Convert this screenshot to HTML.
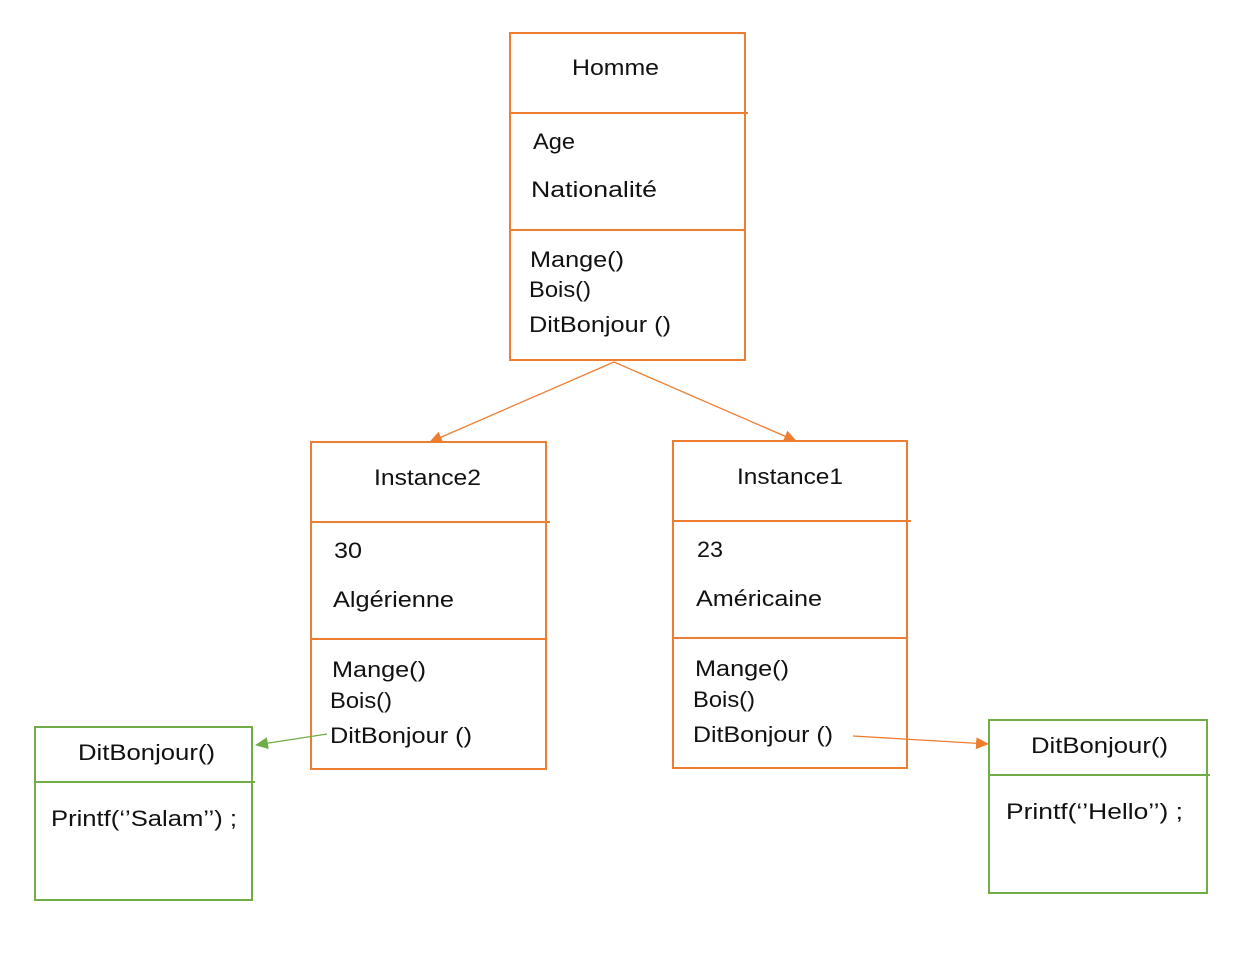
<!DOCTYPE html>
<html><head><meta charset="utf-8"><style>
body{margin:0;background:#fff;}
svg text{font-family:"Liberation Sans",sans-serif;font-size:22px;fill:#111;}
</style></head><body>
<svg width="1237" height="959" viewBox="0 0 1237 959" xmlns="http://www.w3.org/2000/svg">
<defs>
<marker id="ao" markerWidth="14" markerHeight="14" refX="12" refY="6" orient="auto" markerUnits="userSpaceOnUse"><path d="M0,0 L13,6 L0,12 z" fill="#ED7D31"/></marker>
<marker id="ag" markerWidth="14" markerHeight="14" refX="12" refY="6" orient="auto" markerUnits="userSpaceOnUse"><path d="M0,0 L13,6 L0,12 z" fill="#70AD47"/></marker>
</defs>
<g fill="none" stroke="#ED7D31" stroke-width="2">
<rect x="510" y="33" width="235" height="327"/>
<line x1="510" y1="113" x2="748" y2="113"/>
<line x1="510" y1="230" x2="745" y2="230"/>
<rect x="311" y="442" width="235" height="327"/>
<line x1="311" y1="522" x2="550" y2="522"/>
<line x1="311" y1="639" x2="546" y2="639"/>
<rect x="673" y="441" width="234" height="327"/>
<line x1="673" y1="521" x2="911" y2="521"/>
<line x1="673" y1="638" x2="907" y2="638"/>
</g>
<g stroke="#ED7D31" stroke-width="1.3">
<line x1="614" y1="362" x2="430" y2="442" marker-end="url(#ao)"/>
<line x1="614" y1="362" x2="796" y2="441" marker-end="url(#ao)"/>
<line x1="853" y1="736" x2="988" y2="744" marker-end="url(#ao)"/>
</g>
<line x1="327" y1="734" x2="256" y2="745" stroke="#70AD47" stroke-width="1.3" marker-end="url(#ag)"/>
<g fill="none" stroke="#70AD47" stroke-width="2">
<rect x="35" y="727" width="217" height="173"/>
<line x1="35" y1="782" x2="255" y2="782"/>
<rect x="989" y="720" width="218" height="173"/>
<line x1="989" y1="775" x2="1210" y2="775"/>
</g>
<g lengthAdjust="spacingAndGlyphs">
<text x="572" y="75" textLength="87" lengthAdjust="spacingAndGlyphs">Homme</text>
<text x="533" y="149" textLength="42" lengthAdjust="spacingAndGlyphs">Age</text>
<text x="531" y="197" textLength="126" lengthAdjust="spacingAndGlyphs">Nationalité</text>
<text x="530" y="267" textLength="94" lengthAdjust="spacingAndGlyphs">Mange()</text>
<text x="529" y="297" textLength="62" lengthAdjust="spacingAndGlyphs">Bois()</text>
<text x="529" y="332" textLength="142" lengthAdjust="spacingAndGlyphs">DitBonjour ()</text>
<text x="374" y="485" textLength="107" lengthAdjust="spacingAndGlyphs">Instance2</text>
<text x="334" y="558" textLength="28" lengthAdjust="spacingAndGlyphs">30</text>
<text x="333" y="607" textLength="121" lengthAdjust="spacingAndGlyphs">Algérienne</text>
<text x="332" y="677" textLength="94" lengthAdjust="spacingAndGlyphs">Mange()</text>
<text x="330" y="708" textLength="62" lengthAdjust="spacingAndGlyphs">Bois()</text>
<text x="330" y="743" textLength="142" lengthAdjust="spacingAndGlyphs">DitBonjour ()</text>
<text x="737" y="484" textLength="106" lengthAdjust="spacingAndGlyphs">Instance1</text>
<text x="697" y="557" textLength="26" lengthAdjust="spacingAndGlyphs">23</text>
<text x="696" y="606" textLength="126" lengthAdjust="spacingAndGlyphs">Américaine</text>
<text x="695" y="676" textLength="94" lengthAdjust="spacingAndGlyphs">Mange()</text>
<text x="693" y="707" textLength="62" lengthAdjust="spacingAndGlyphs">Bois()</text>
<text x="693" y="742" textLength="140" lengthAdjust="spacingAndGlyphs">DitBonjour ()</text>
<text x="78" y="760" textLength="137" lengthAdjust="spacingAndGlyphs">DitBonjour()</text>
<text x="51" y="826" textLength="186" lengthAdjust="spacingAndGlyphs">Printf(‘’Salam’’) ;</text>
<text x="1031" y="753" textLength="137" lengthAdjust="spacingAndGlyphs">DitBonjour()</text>
<text x="1006" y="819" textLength="177" lengthAdjust="spacingAndGlyphs">Printf(‘’Hello’’) ;</text>
</g>
</svg>
</body></html>
